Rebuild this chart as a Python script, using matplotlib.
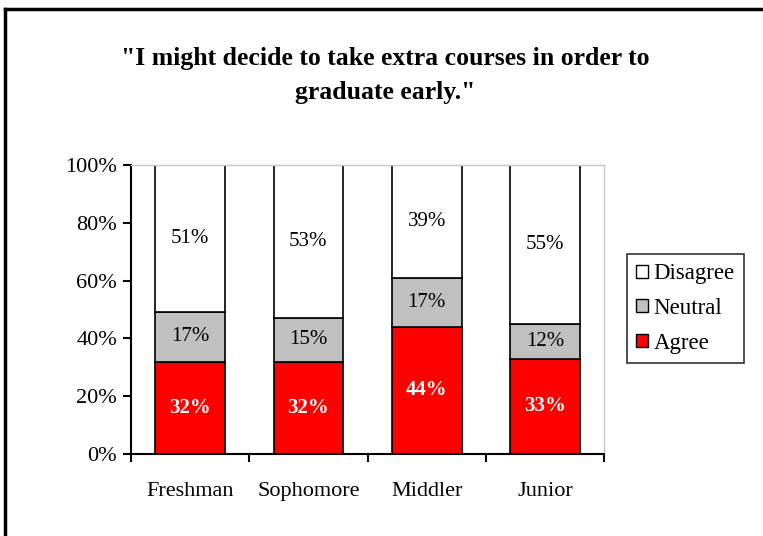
import matplotlib
matplotlib.use("Agg")
from matplotlib import pyplot as plt
from matplotlib.lines import Line2D
from matplotlib.patches import Patch

categories = ["Freshman", "Sophomore", "Middler", "Junior"]
agree = [32, 32, 44, 33]
neutral = [17, 15, 17, 12]
disagree = [51, 53, 39, 55]
yticks = [0, 20, 40, 60, 80, 100]

plt.rcParams["font.family"] = ["Liberation Serif", "DejaVu Serif"]

fig = plt.figure(figsize=(7.63, 5.36), dpi=100)
ax = fig.add_axes([0.1717, 0.153, 0.62, 0.539])

x = list(range(len(categories)))
w = 0.59
bottom_n = agree
bottom_d = [a + n for a, n in zip(agree, neutral)]

ax.bar(x, agree, w, color="#ff0000", edgecolor="black", linewidth=1.2)
ax.bar(x, neutral, w, bottom=bottom_n, color="#c0c0c0", edgecolor="black", linewidth=1.2)
ax.bar(x, disagree, w, bottom=bottom_d, color="white", edgecolor="black", linewidth=1.2)

for i in x:
    ax.text(i, agree[i] / 2, f"{agree[i]}%", ha="center", va="center",
            color="white", fontweight="bold", fontsize=15)
    ax.text(i, bottom_n[i] + neutral[i] / 2, f"{neutral[i]}%", ha="center",
            va="center", fontsize=15)
    ax.text(i, bottom_d[i] + disagree[i] / 2, f"{disagree[i]}%", ha="center",
            va="center", fontsize=15)

ax.set_xlim(-0.5, len(categories) - 0.5)
ax.set_ylim(0, 100)
ax.set_yticks(yticks)
ax.set_yticklabels([f"{t}%" for t in yticks], fontsize=16)
ax.set_xticks([i + 0.5 for i in range(-1, len(categories))])
ax.set_xticklabels([])
ax.set_xticks(x, minor=True)
ax.set_xticklabels(categories, minor=True, fontsize=16)
ax.tick_params(axis="x", which="minor", length=0, pad=20)
ax.tick_params(axis="x", which="major", length=6, width=1.5, direction="out")
ax.tick_params(axis="y", length=6, width=1.5, direction="out", pad=4)

for s in ["left", "bottom"]:
    ax.spines[s].set_linewidth(1.5)
for s in ["top", "right"]:
    ax.spines[s].set_color("#c8c8c8")
    ax.spines[s].set_linewidth(1)

handles = [Patch(facecolor="white", edgecolor="black"),
           Patch(facecolor="#c0c0c0", edgecolor="black"),
           Patch(facecolor="#ff0000", edgecolor="black")]
leg = fig.legend(handles, ["Disagree", "Neutral", "Agree"],
                 loc="upper left", bbox_to_anchor=(627 / 763, 1 - 254 / 536),
                 fontsize=16.5, frameon=True, fancybox=False, edgecolor="black",
                 handlelength=0.5, handleheight=0.5, handletextpad=0.25,
                 labelspacing=0.6, borderpad=0.4, borderaxespad=0)
leg.get_frame().set_linewidth(1.2)

fig.text(385 / 763, 1 - 75.5 / 536,
         "\"I might decide to take extra courses in order to\ngraduate early.\"",
         ha="center", va="center", fontsize=18.5, fontweight="bold",
         linespacing=1.6)

# outer frame (left and top)
fig.add_artist(Line2D([5 / 763, 5 / 763], [0, 1 - 9 / 536], color="black", linewidth=2.5))
fig.add_artist(Line2D([5 / 763, 1], [1 - 9 / 536, 1 - 9 / 536], color="black", linewidth=2.5))

fig.savefig("out.png", dpi=100, facecolor="white")
plt.close(fig)
